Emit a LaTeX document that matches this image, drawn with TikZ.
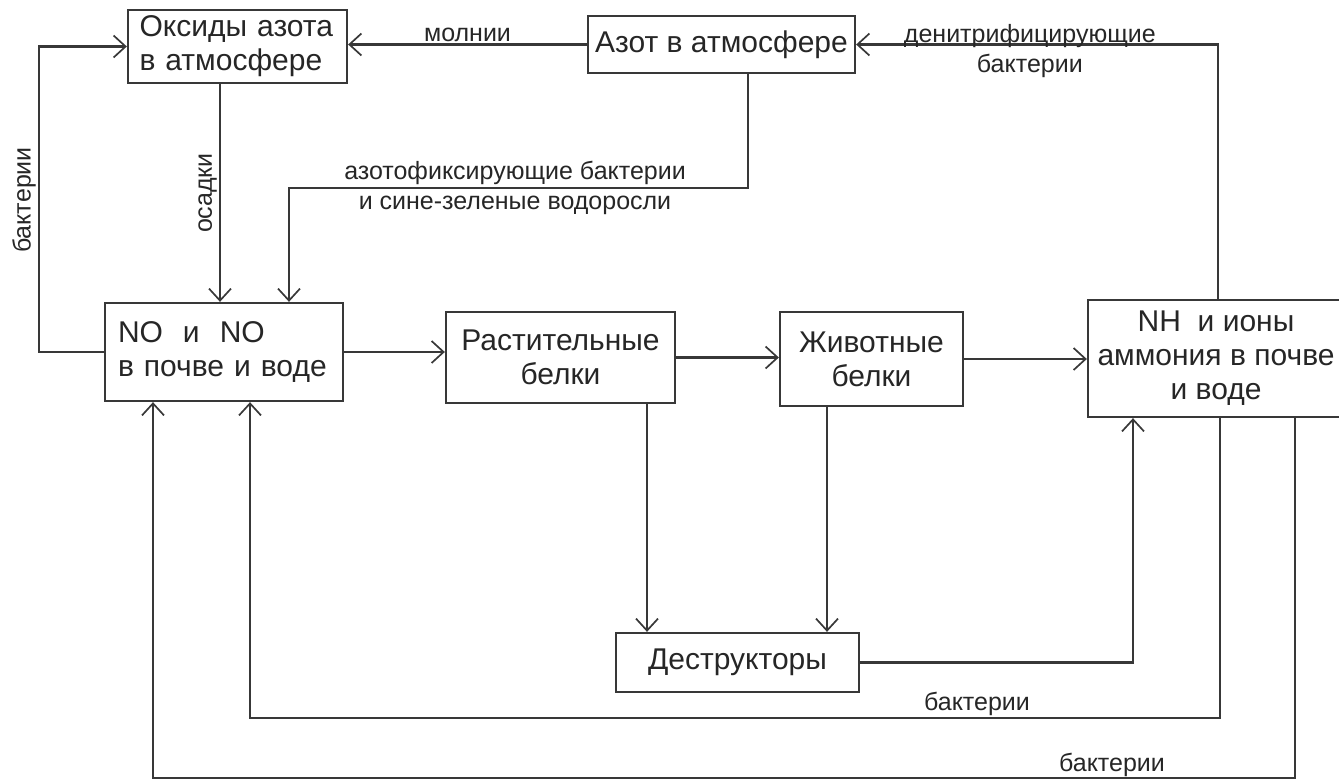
\documentclass[tikz,border=0pt]{standalone}
\usepackage{fontspec}
\setmainfont{Liberation Sans}
\usetikzlibrary{arrows.meta}

\newcommand{\blokfont}{\fontsize{30}{34}\selectfont}
\newcommand{\podpisfont}{\fontsize{25}{30}\selectfont}

\begin{document}
\begin{tikzpicture}[x=1pt, y=-1pt, line width=2.3pt, draw=black!78, text=black!85,
	blok/.style={draw, line width=2.3pt, inner sep=0pt, font=\blokfont, align=center},
	strelka/.style={-{Straight Barb[length=12pt, width=22pt, line width=1.7pt]}},
	podpis/.style={font=\podpisfont, inner sep=2pt}]
			\useasboundingbox (0,0) rectangle (1339,782);

			\node[blok, minimum width=219pt, minimum height=73pt, text width=196pt, align=left] (oksidy) at (237.5,46.5) {Оксиды азота\\в атмосфере};
			\node[blok, minimum width=267pt, minimum height=57pt] (azot) at (721.5,44.5) {Азот в атмосфере};
			\node[blok, minimum width=238pt, minimum height=98pt, text width=212pt, align=left] (no) at (224,352) {NO\ \ и\ \ NO\\в почве и воде};
			\node[blok, minimum width=229pt, minimum height=91pt] (rast) at (560.5,357.5) {Растительные\\белки};
			\node[blok, minimum width=183pt, minimum height=94pt] (zhiv) at (871.5,359) {Животные\\белки};
			\node[blok, minimum width=256pt, minimum height=117pt] (nh) at (1216,358.5) {NH\ \ и ионы\\аммония в почве\\и воде};
			\node[blok, minimum width=243pt, minimum height=59pt] (destr) at (737.5,662.5) {Деструкторы};

			\coordinate (lev) at (39,200);
			\coordinate (fiks) at (515,188);
			\coordinate (bakt1) at (977,718);
			\coordinate (bakt2) at (1112,778);

			% atmosfera
			\draw[strelka] (azot.west) -- (azot.west -| oksidy.east) node[podpis, midway, above] {молнии};
			\draw[strelka] ([xshift=2pt]nh.north) |- (azot.east) node[podpis, pos=0.76, yshift=-7pt, align=center] {денитрифицирующие\\бактерии};
			\draw[strelka] ([xshift=26.5pt]azot.south) |- (fiks) -| ([xshift=65pt]no.north);
			\node[podpis, align=center] at (fiks) {азотофиксирующие бактерии\\и сине-зеленые водоросли};
			\draw[strelka] ([xshift=-17.5pt]oksidy.south) -- ([xshift=-4pt]no.north) node[podpis, midway, rotate=90, anchor=south] {осадки};
			\draw[strelka] (no.west) -| (lev) |- (oksidy.west);
			\node[podpis, rotate=90, anchor=south] at (lev) {бактерии};

			% belki
			\draw[strelka] (no.east) -- (no.east -| rast.west);
			\draw[strelka] (rast.east) -- (rast.east -| zhiv.west);
			\draw[strelka] (zhiv.east) -- (zhiv.east -| nh.west);
			\draw[strelka] ([xshift=86.5pt]rast.south) -- ([xshift=-90.5pt]destr.north);
			\draw[strelka] ([xshift=-44.5pt]zhiv.south) -- ([xshift=89.5pt]destr.north);
			\draw[strelka] (destr.east) -| ([xshift=-83pt]nh.south);

			% obratno v pochvu
			\draw[strelka] ([xshift=4pt]nh.south) |- (bakt1) -| ([xshift=26pt]no.south);
			\node[podpis, above, inner sep=1pt] at (bakt1) {бактерии};
			\draw[strelka] ([xshift=79pt]nh.south) |- (bakt2) -| ([xshift=-71pt]no.south);
			\node[podpis, above, inner sep=0pt] at (bakt2) {бактерии};
\end{tikzpicture}
\end{document}
